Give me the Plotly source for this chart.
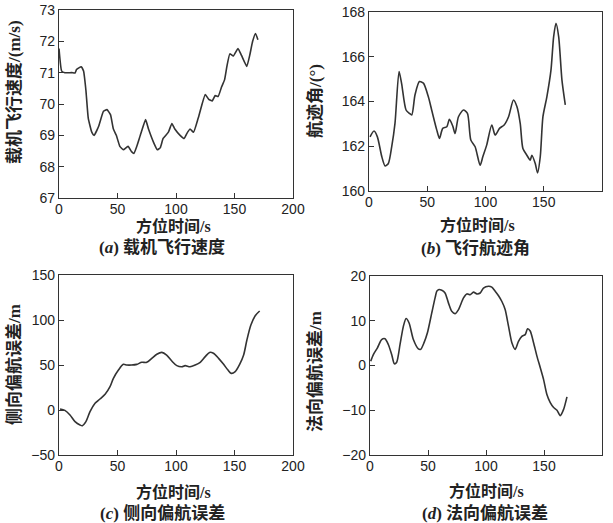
import plotly.graph_objects as go

# (a) aircraft speed
t_a = [0, 2.3, 5, 11, 13.7, 15, 19, 21, 23, 25, 28, 30, 34, 38, 41, 44, 46.5, 49, 52, 55, 59, 62, 64, 66.5,
       69.5, 74, 76.5, 81, 84, 86.5, 89, 93.5, 96.5, 99, 103.5, 107, 109, 112, 115, 119, 125, 128, 131, 133.5,
       136, 139, 141.5, 143.5, 146, 149, 153, 156, 160.5, 163, 165.5, 168, 170]
v_a = [71.77, 71.05, 71.0, 71.0, 70.99, 71.1, 71.19, 71.05, 70.44, 69.55, 69.1, 69.0, 69.3, 69.77, 69.82, 69.66,
       69.2, 69.0, 68.65, 68.54, 68.65, 68.48, 68.42, 68.65, 69.0, 69.5, 69.2, 68.76, 68.54, 68.6, 68.9, 69.1,
       69.38, 69.2, 69.0, 68.9, 69.04, 69.2, 69.1, 69.55, 70.3, 70.15, 70.1, 70.27, 70.24, 70.55, 70.77, 71.2,
       71.6, 71.53, 71.77, 71.55, 71.2, 71.55, 72.0, 72.25, 72.05]

# (b) flight path angle
t_b = [0.9, 4.3, 7.2, 11, 13.8, 16.6, 19.5, 22.3, 25.8, 28, 31.8, 34.7, 36.7, 39.5, 43.3, 46.7, 51, 53.9, 58.2,
       60.5, 63.3, 66.8, 69, 71.9, 73.9, 76.8, 81.1, 84.5, 87.4, 91.1, 95.4, 97.7, 101, 105.4, 108.3, 112, 116,
       119.8, 124, 127, 129.8, 132.1, 135.5, 138.4, 139.8, 142.7, 144.7, 147, 149.3, 152.7, 156.2, 158.5, 160.5,
       162.8, 165.6, 168.5]
v_b = [162.42, 162.68, 162.42, 161.53, 161.12, 161.23, 161.98, 163.02, 165.34, 164.8, 163.62, 163.47, 163.4,
       164.3, 164.89, 164.82, 164.2, 163.6, 162.72, 162.35, 162.8, 162.87, 163.2, 162.9, 162.57, 163.32, 163.62,
       163.47, 162.28, 161.98, 161.15, 161.53, 162.05, 162.95, 162.5, 162.8, 162.95, 163.32, 164.07, 163.77,
       163.02, 161.9, 161.6, 161.38, 161.6, 161.23, 160.81, 161.53, 163.32, 164.22, 165.4, 166.9, 167.5, 166.9,
       164.97, 163.85]

# (c) lateral deviation error
t_c = [0.9, 5, 9.4, 13.7, 18, 20, 23, 26.5, 30.8, 35, 39.4, 43.6, 46.5, 50.8, 55, 58, 62, 66.5, 70.7, 75, 79.3,
       83.6, 87.9, 92, 96.4, 100.7, 105, 107.8, 112, 116.4, 120.7, 125, 128.7, 132, 136.4, 140.7, 144.4, 147.2,
       150.6, 154.4, 157.8, 160.6, 164, 167.7, 171.5]
v_c = [1.1, -0.4, -5.6, -13, -16.7, -17.4, -13, -1.9, 7.4, 12.2, 17.4, 25.9, 35.2, 44.4, 50.7, 50, 50, 50.7, 53,
       53, 57.4, 61.9, 64, 61, 54.4, 49.3, 48, 49.3, 48.1, 50, 53, 59.3, 64, 63, 57.4, 50.7, 44.4, 40.7, 42.6,
       50.7, 61.1, 77.8, 94.4, 104.8, 110]

# (d) normal deviation error
t_d = [0.6, 2.9, 6.3, 10, 12.9, 15.8, 18.7, 21, 23, 25.9, 28.8, 31.1, 33.7, 37.4, 41.7, 43.7, 46.6, 49.5, 53.2,
       56.1, 57.6, 59, 61.9, 64.7, 67.6, 70.5, 73.4, 76.3, 80.6, 83.5, 86.3, 89.2, 92.1, 95, 97.8, 102.2, 105,
       107.9, 110.8, 113.7, 116.5, 119.4, 122.3, 125.2, 128, 130.9, 133.8, 135.8, 138.1, 141, 143.9, 146.8,
       149.6, 152.5, 155.4, 158.3, 161.2, 164, 166.9, 169.8]
v_d = [0.97, 2.45, 3.9, 5.8, 6.0, 4.7, 2.45, 0.37, 0.74, 4.7, 8.8, 10.5, 9.5, 5.8, 3.7, 3.6, 5.1, 7.3, 11.7, 15.1,
       16.6, 16.95, 16.8, 16.2, 14, 12.1, 11.6, 12.5, 15.1, 16, 15.8, 16.4, 16, 16.2, 17.3, 17.7, 17.5, 16.6,
       15.6, 14.3, 12.5, 8.8, 5.1, 3.6, 5.4, 6.5, 6.9, 8.2, 7.7, 5.1, 2.1, -0.5, -3.1, -6.5, -8.3, -9.4, -10,
       -11.2, -9.8, -7]

x_ticks = [0, 50, 100, 150, 200]
y_ticks_a = [67, 68, 69, 70, 71, 72, 73]
y_ticks_b = [160, 162, 164, 166, 168]
y_ticks_c = [-50, 0, 50, 100, 150]
y_ticks_d = [-20, -10, 0, 10, 20]

y_titles = ["载机飞行速度/(m/s)", "航迹角/(°)", "侧向偏航误差/m", "法向偏航误差/m"]
x_title = "方位时间/s"
captions = [("a", "载机飞行速度"), ("b", "飞行航迹角"), ("c", "侧向偏航误差"), ("d", "法向偏航误差")]

W, H = 613, 523
# plot boxes in pixels: (left, right, top, bottom)
boxes = [(59, 293, 10, 198), (369, 602, 12, 191), (59, 293, 275, 455), (370, 602, 276, 455)]

fig = go.Figure()
series = [(t_a, v_a), (t_b, v_b), (t_c, v_c), (t_d, v_d)]
yranges = [(67, 73), (160, 168), (-50, 150), (-20, 20)]
yticks = [y_ticks_a, y_ticks_b, y_ticks_c, y_ticks_d]
smooth = [0.4, 0.7, 0.8, 0.7]

tick_font = dict(family="Liberation Sans, Arial, sans-serif", size=14, color="#222")
cjk_font = dict(family="Liberation Serif, Noto Sans CJK SC, serif", size=16, color="#222")

for i, (tx, vy) in enumerate(series):
    n = "" if i == 0 else str(i + 1)
    fig.add_trace(go.Scatter(x=tx, y=vy, mode="lines",
                             line=dict(color="#333", width=1.6, shape="spline", smoothing=smooth[i]),
                             xaxis="x" + n, yaxis="y" + n, showlegend=False, hoverinfo="skip"))
    l, r, t, b = boxes[i]
    common = dict(showline=True, linecolor="#333", linewidth=1.3, mirror=True, ticks="inside",
                  ticklen=5, tickcolor="#333", showgrid=False, zeroline=False, tickfont=tick_font,
                  automargin=False)
    fig.update_layout(**{
        "xaxis" + n: dict(domain=[l / W, r / W], range=[0, 200], tickvals=x_ticks,
                          anchor="y" + n, ticklabelstandoff=-2, **common),
        "yaxis" + n: dict(domain=[1 - b / H, 1 - t / H], range=list(yranges[i]), tickvals=yticks[i],
                          anchor="x" + n, ticklabelstandoff=0, **common),
    })

ann = []
# x axis titles (x center, y)
xt_pos = [(173, 226), (477, 225), (173, 492), (486, 491)]
for (x, y) in xt_pos:
    ann.append(dict(x=x / W, y=1 - y / H, xref="paper", yref="paper", text="<b>" + x_title + "</b>",
                    showarrow=False, font=cjk_font, xanchor="center", yanchor="middle"))
# y axis titles
yt_pos = [(14, 92), (315, 101), (14, 365), (315, 372)]
for (x, y), txt in zip(yt_pos, y_titles):
    ann.append(dict(x=x / W, y=1 - y / H, xref="paper", yref="paper", text="<b>" + txt + "</b>",
                    showarrow=False, font=dict(cjk_font, size=17), textangle=-90,
                    xanchor="center", yanchor="middle"))
# captions
cap_pos = [(162, 247), (475, 248), (163, 513), (485, 513)]
for (x, y), (letter, txt) in zip(cap_pos, captions):
    ann.append(dict(x=x / W, y=1 - y / H, xref="paper", yref="paper",
                    text="<b>(<i>" + letter + "</i>) " + txt + "</b>",
                    showarrow=False, font=dict(family="Liberation Serif, Noto Sans CJK SC, serif", size=17,
                                               color="#222"),
                    xanchor="center", yanchor="middle"))

fig.update_layout(width=W, height=H, margin=dict(l=0, r=0, t=0, b=0), paper_bgcolor="white",
                  plot_bgcolor="white", annotations=ann)

fig.write_html("out.html", config={"displayModeBar": False},
               post_script="document.body.style.margin='0';document.body.style.overflow='hidden';")
